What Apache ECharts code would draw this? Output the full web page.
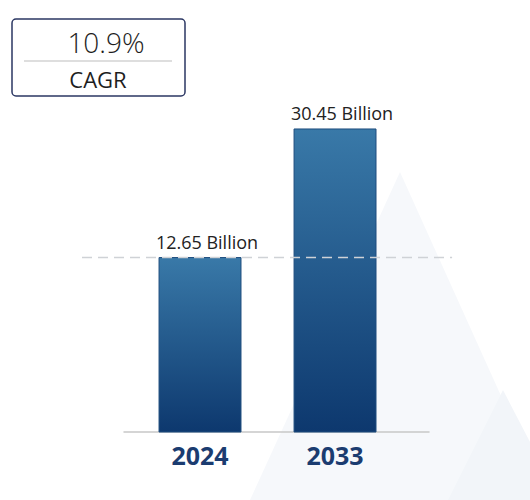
<!DOCTYPE html>
<html>
<head>
<meta charset="utf-8">
<script src="https://cdn.jsdelivr.net/npm/echarts@6/dist/echarts.min.js"></script>
<style>
  html, body { margin: 0; padding: 0; background: #ffffff; }
  #chart { width: 530px; height: 500px; }
</style>
</head>
<body>
<div id="chart"></div>
<script>
// ---- data ----
const years = ['2024', '2033'];
const values = [12.65, 30.45];
const unitLabel = 'Billion';
const cagrValue = '10.9%';
const cagrLabel = 'CAGR';

// ---- layout helpers (axis ranges, not data) ----
const Y_MIN = -11.5, Y_MAX = 40;
const X_MIN = -0.563, X_MAX = 1.696;
const BAR_W = 0.607;
const DASH_FROM = -0.874, DASH_TO = 1.867;
const FONT = '"Open Sans", "Liberation Sans", sans-serif';

const chart = echarts.init(document.getElementById('chart'), null, { renderer: 'svg' });

function renderItem(params, api) {
  const x = api.value(0);
  const v = api.value(1);
  const base = api.coord([x, Y_MIN]);
  const top = api.coord([x, v]);
  const w = api.size([BAR_W, 0])[0];
  const children = [
    {
      type: 'rect',
      shape: { x: top[0] - w / 2, y: top[1], width: w, height: base[1] - top[1] },
      style: {
        fill: new echarts.graphic.LinearGradient(0, 0, 0, 1, [
          { offset: 0, color: '#3979a8' },
          { offset: 1, color: '#0d386e' }
        ]),
        stroke: '#1e4d7e',
        lineWidth: 1
      }
    },
    {
      type: 'text',
      style: {
        text: v.toFixed(2) + ' ' + unitLabel,
        x: top[0] + 7,
        y: top[1] - 7,
        align: 'center',
        verticalAlign: 'bottom',
        fontSize: 18,
        fontWeight: 'normal',
        fontFamily: FONT,
        fill: '#222222'
      }
    }
  ];
  if (params.dataIndex === 0) {
    const a = api.coord([DASH_FROM, v]);
    const b = api.coord([DASH_TO, v]);
    children.push({
      type: 'line',
      z2: 100,
      shape: { x1: a[0], y1: a[1], x2: b[0], y2: b[1] },
      style: { stroke: '#cfd2d6', lineWidth: 1.5, lineDash: [10, 6] }
    });
  }
  return { type: 'group', children: children };
}

const option = {
  backgroundColor: '#ffffff',
  animation: false,
  grid: { left: 124, right: 101, top: 60, bottom: 68 },
  xAxis: {
    type: 'value',
    min: X_MIN,
    max: X_MAX,
    splitLine: { show: false },
    axisTick: { show: false },
    axisLine: { show: true, onZero: false, lineStyle: { color: '#c8c8c8', width: 1.5 } },
    axisLabel: {
      customValues: years.map((y, i) => i),
      formatter: (v) => years[Math.round(v)],
      color: '#1b3c70',
      fontSize: 25,
      fontWeight: 'bold',
      fontFamily: FONT,
      margin: 10
    }
  },
  yAxis: { type: 'value', min: Y_MIN, max: Y_MAX, show: false, splitLine: { show: false } },
  graphic: [
    {
      type: 'group',
      z: 0,
      silent: true,
      children: [
        { type: 'polygon', shape: { points: [[250, 500], [400, 172], [548, 500]] }, style: { fill: '#f6f8fb' } },
        { type: 'polygon', shape: { points: [[448, 500], [503, 390], [560, 500]] }, style: { fill: '#f2f5f9' } }
      ]
    },
    {
      type: 'group',
      z: 10,
      children: [
        { type: 'rect', shape: { x: 12, y: 19, width: 173, height: 77, r: 4 }, style: { fill: '#ffffff', stroke: '#2b3763', lineWidth: 1.5 } },
        { type: 'line', shape: { x1: 24, y1: 61, x2: 172, y2: 61 }, style: { stroke: '#bdbdbd', lineWidth: 1 } },
        { type: 'text', style: { text: cagrValue, x: 106, y: 42, align: 'center', verticalAlign: 'middle', fontSize: 28, fontWeight: 300, fontFamily: FONT, fill: '#1e1e1e' } },
        { type: 'text', style: { text: cagrLabel, x: 98, y: 79, align: 'center', verticalAlign: 'middle', fontSize: 22, fontWeight: 'normal', fontFamily: FONT, fill: '#1e1e1e' } }
      ]
    }
  ],
  series: [
    {
      type: 'custom',
      renderItem: renderItem,
      encode: { x: 0, y: 1 },
      data: years.map((y, i) => [i, values[i]])
    }
  ]
};
chart.setOption(option);
</script>
</body>
</html>
